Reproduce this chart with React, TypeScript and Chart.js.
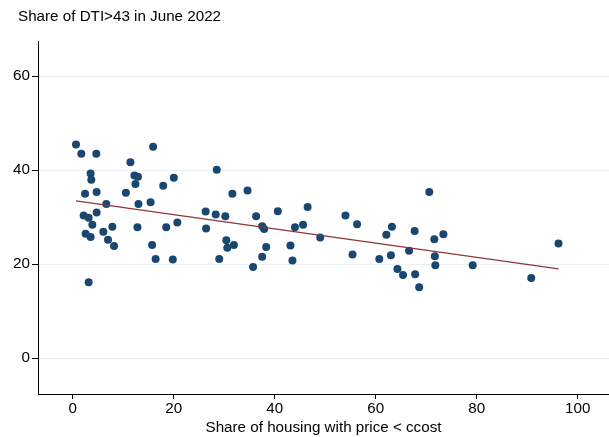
import React, { useEffect, useRef } from "react";
import { Chart, registerables } from "chart.js";

Chart.register(...registerables);

const TITLE = "Share of DTI>43 in June 2022";
const X_TITLE = "Share of housing with price < ccost";

const xValues = [
  0.63, 1.68, 4.65, 15.9, 11.4, 3.52, 3.66, 12.2, 12.9, 20.0,
  12.4, 17.9, 2.42, 4.71, 10.5, 6.63, 13.0, 15.4, 2.14, 3.13,
  4.71, 3.86, 7.82, 12.8, 18.5, 20.7, 2.53, 3.52, 6.04, 6.97,
  8.16, 15.7, 16.4, 19.8, 3.13, 28.5, 31.6, 34.6, 26.3, 28.3,
  30.2, 36.3, 40.6, 26.4, 37.5, 37.9, 44.0, 30.4, 30.6, 31.9,
  38.3, 43.1, 29.0, 37.5, 43.5, 35.7, 46.5, 45.6, 49.0, 54.0,
  56.3, 55.4, 60.7, 62.1, 63.2, 63.0, 66.6, 67.7, 64.3, 65.4,
  67.8, 68.6, 70.6, 71.6, 73.4, 71.7, 71.8, 79.2, 90.8, 96.2,
];
const yValues = [
  45.5, 43.5, 43.5, 45.0, 41.7, 39.3, 38.0, 38.9, 38.6, 38.4,
  37.1, 36.7, 35.0, 35.4, 35.2, 32.8, 32.8, 33.2, 30.4, 29.9,
  31.0, 28.4, 28.0, 27.9, 27.9, 28.9, 26.5, 25.8, 26.9, 25.2,
  23.9, 24.1, 21.1, 21.0, 16.2, 40.1, 35.0, 35.7, 31.2, 30.6,
  30.2, 30.2, 31.3, 27.6, 28.1, 27.5, 27.9, 25.1, 23.5, 24.1,
  23.7, 24.0, 21.1, 21.6, 20.8, 19.4, 32.2, 28.4, 25.7, 30.4,
  28.5, 22.1, 21.1, 26.3, 28.0, 21.9, 22.9, 27.1, 19.0, 17.7,
  17.9, 15.1, 35.4, 25.3, 26.4, 21.7, 19.8, 19.8, 17.1, 24.4,
];
const fitX = [0.63, 96.2];
const fitY = [33.5, 19.0];
const xTicks = [0, 20, 40, 60, 80, 100];
const yTicks = [0, 20, 40, 60];

const FONT = "'Liberation Sans', Arial, sans-serif";
const FS = 15.2;

const titlePlugin = {
  id: "stataTitle",
  afterDraw(chart: any) {
    const ctx = chart.ctx;
    ctx.save();
    ctx.fillStyle = "#000";
    ctx.font = `${FS}px ${FONT}`;
    ctx.textAlign = "left";
    ctx.textBaseline = "middle";
    ctx.fillText(TITLE, 18, 17);
    ctx.restore();
  },
};

export default function App() {
  const ref = useRef<HTMLCanvasElement | null>(null);
  useEffect(() => {
    document.body.style.margin = "0";
    const canvas = ref.current!;
    const chart = new Chart(canvas, {
      type: "scatter",
      data: {
        datasets: [
          {
            type: "line" as any,
            data: fitX.map((x, i) => ({ x, y: fitY[i] })),
            borderColor: "#90353b",
            borderWidth: 1.3,
            pointRadius: 0,
            fill: false,
            order: 0,
          } as any,
          {
            data: xValues.map((x, i) => ({ x, y: yValues[i] })),
            backgroundColor: "#1a476f",
            borderColor: "#1a476f",
            borderWidth: 0,
            pointRadius: 4,
            order: 1,
          },
        ],
      },
      options: {
        animation: false,
        responsive: false,
        maintainAspectRatio: false,
        layout: { autoPadding: false, padding: { top: 41, left: 0, right: 0, bottom: 0 } },
        plugins: {
          legend: { display: false },
          tooltip: { enabled: false },
          title: { display: false },
        },
        scales: {
          x: {
            type: "linear",
            min: -6.9,
            max: 106.2,
            afterBuildTicks: (s: any) => {
              s.ticks = xTicks.map((v) => ({ value: v }));
            },
            afterFit: (s: any) => {
              s.height = 43;
              s.paddingLeft = 0;
              s.paddingRight = 0;
            },
            grid: {
              drawOnChartArea: false,
              drawTicks: true,
              tickLength: 5,
              color: "#000",
              tickColor: "#000",
            },
            border: { display: true, color: "#000", width: 1 },
            ticks: {
              color: "#000",
              font: { family: FONT, size: FS },
              padding: 1,
              maxRotation: 0,
              autoSkip: false,
            },
            title: {
              display: true,
              text: X_TITLE,
              color: "#000",
              font: { family: FONT, size: FS },
              padding: { top: 0, bottom: 0 },
            },
          },
          y: {
            type: "linear",
            min: -7.6,
            max: 67.5,
            afterBuildTicks: (s: any) => {
              s.ticks = yTicks.map((v) => ({ value: v }));
            },
            afterFit: (s: any) => {
              s.width = 38;
              s.paddingTop = 0;
              s.paddingBottom = 0;
            },
            grid: {
              drawOnChartArea: true,
              drawTicks: true,
              tickLength: 6,
              color: "#e6eff1",
              tickColor: "#000",
            },
            border: { display: true, color: "#000", width: 1 },
            ticks: {
              color: "#000",
              font: { family: FONT, size: FS },
              padding: 2,
              autoSkip: false,
            },
          },
        },
      },
      plugins: [titlePlugin],
    });
    return () => chart.destroy();
  }, []);
  return (
    <div style={{ position: "absolute", left: 0, top: 0, width: 609, height: 437, background: "#fff" }}>
      <canvas ref={ref} width={609} height={437} style={{ display: "block", width: 609, height: 437 }} />
    </div>
  );
}
